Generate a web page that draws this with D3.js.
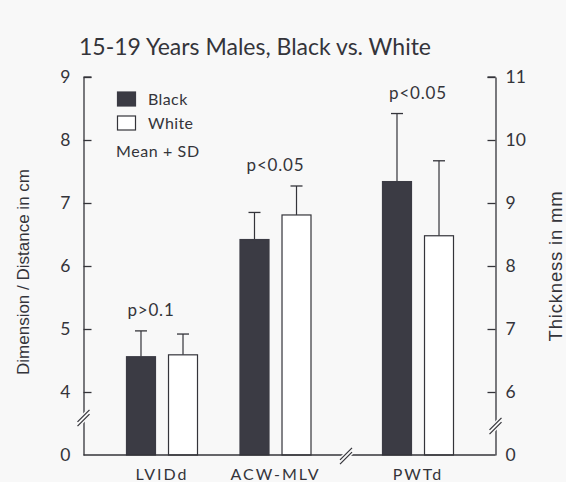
<!DOCTYPE html>
<html>
<head>
<meta charset="utf-8">
<script src="https://cdn.jsdelivr.net/npm/d3@7"></script>
<style>
  html, body { margin: 0; padding: 0; background: #f8f8f8; }
  svg { display: block; }
</style>
</head>
<body>
<svg id="chart" width="566" height="482"></svg>
<script>
// Group labels along the bottom
const categories = ["LVIDd", "ACW-MLV", "PWTd"];
// Which axis each group is read against (cm on the left, mm on the right)
const axisOf = ["left", "left", "right"];
// Means and standard deviations
const blackMean = [4.56, 6.42, 9.34];
const blackSD   = [0.41, 0.43, 1.08];
const whiteMean = [4.59, 6.81, 8.48];
const whiteSD   = [0.33, 0.46, 1.19];
// Significance labels above each group
const pLabels = ["p>0.1", "p<0.05", "p<0.05"];
// Axis ticks
const leftTicks  = [4, 5, 6, 7, 8, 9];
const rightTicks = [6, 7, 8, 9, 10, 11];
const zeroLabel = "0";

const ink = "#34343a";
const barDark = "#3b3b44";
const paper = "#f8f8f8";
const roundFont = "Lato, 'DejaVu Sans', sans-serif";
const plainFont = "'Liberation Sans', Arial, sans-serif";

const svg = d3.select("#chart");

const xLeft = 83.5, xRight = 495.5;
const yTop = 77, yBase = 455;

// Both value axes share one pixel-per-unit spacing; the bottom is broken to zero
const yL = d3.scaleLinear().domain([3, 9]).range([yBase, yTop]);
const yR = d3.scaleLinear().domain([5, 11]).range([yBase, yTop]);

// Group centres: a band scale, with an extra shift for groups past the axis break
const breakShift = 29;
const bandW = 113.5;
const xBand = d3.scaleBand().domain(categories)
  .range([162 - bandW / 2, 162 - bandW / 2 + bandW * 3]).padding(0);
const groupX = (c, i) => xBand(c) + xBand.bandwidth() / 2 + (i >= 2 ? breakShift : 0);
const xSeries = d3.scaleBand().domain(["Black", "White"]).range([-35.5, 35.5]).paddingInner(0.31).paddingOuter(0);

const rows = categories.map((c, i) => ({
  cat: c, i,
  y: axisOf[i] === "left" ? yL : yR,
  series: [
    { key: "Black", mean: blackMean[i], sd: blackSD[i] },
    { key: "White", mean: whiteMean[i], sd: whiteSD[i] }
  ]
}));

// Title
svg.append("text")
  .attr("x", 255).attr("y", 55)
  .attr("text-anchor", "middle")
  .attr("font-family", roundFont)
  .attr("font-size", 23)
  .attr("fill", ink)
  .text("15-19 Years Males, Black vs. White");

// Bars
const groups = svg.append("g").selectAll("g.group").data(rows).join("g")
  .attr("class", "group")
  .attr("transform", d => `translate(${groupX(d.cat, d.i)},0)`);

groups.each(function (d) {
  const g = d3.select(this);
  d.series.forEach(s => {
    const x0 = xSeries(s.key);
    const w = xSeries.bandwidth();
    const cx = x0 + w / 2;
    // error whisker
    g.append("line")
      .attr("x1", cx).attr("x2", cx)
      .attr("y1", d.y(s.mean)).attr("y2", d.y(s.mean + s.sd))
      .attr("stroke", ink).attr("stroke-width", 1.2);
    g.append("line")
      .attr("x1", cx - 6).attr("x2", cx + 6)
      .attr("y1", d.y(s.mean + s.sd)).attr("y2", d.y(s.mean + s.sd))
      .attr("stroke", ink).attr("stroke-width", 1.3);
    g.append("rect")
      .attr("x", x0).attr("width", w)
      .attr("y", d.y(s.mean)).attr("height", yBase - d.y(s.mean))
      .attr("fill", s.key === "Black" ? barDark : "#ffffff")
      .attr("stroke", s.key === "Black" ? barDark : ink)
      .attr("stroke-width", 1.2);
  });
  // label sits just above the taller whisker
  const top = d3.min(d.series, s => d.y(s.mean + s.sd));
  g.append("text")
    .attr("x", d.i === 0 ? -11 : 0).attr("y", top - 15)
    .attr("text-anchor", "middle")
    .attr("font-family", roundFont)
    .attr("font-size", 17)
    .attr("letter-spacing", 0.8)
    .attr("fill", ink)
    .text(pLabels[d.i]);
});

// Left axis (ticks pointing inward)
const fmt = d3.format("d");
const axL = svg.append("g").attr("transform", `translate(${xLeft},0)`)
  .call(d3.axisLeft(yL).tickValues(leftTicks).tickFormat(fmt)
    .tickSizeInner(-8).tickSizeOuter(0).tickPadding(13));
// Right axis
const axR = svg.append("g").attr("transform", `translate(${xRight},0)`)
  .call(d3.axisRight(yR).tickValues(rightTicks).tickFormat(fmt)
    .tickSizeInner(-8).tickSizeOuter(0).tickPadding(10));

[axL, axR].forEach(ax => {
  ax.select(".domain").attr("stroke", ink).attr("stroke-width", 1.3);
  ax.selectAll(".tick line").attr("stroke", ink).attr("stroke-width", 1.3);
  ax.selectAll(".tick text")
    .attr("font-family", roundFont).attr("font-size", 17.5).attr("fill", ink);
});
// top caps of the axes
svg.append("line").attr("x1", xLeft).attr("x2", xLeft + 8).attr("y1", yTop).attr("y2", yTop)
  .attr("stroke", ink).attr("stroke-width", 1.3);
svg.append("line").attr("x1", xRight - 8).attr("x2", xRight).attr("y1", yTop).attr("y2", yTop)
  .attr("stroke", ink).attr("stroke-width", 1.3);

// Baseline
svg.append("line")
  .attr("x1", xLeft).attr("x2", xRight).attr("y1", yBase).attr("y2", yBase)
  .attr("stroke", ink).attr("stroke-width", 1.3);

// Zero labels at the broken bottom
svg.append("text").attr("x", xLeft - 13).attr("y", yBase).attr("dy", "0.32em")
  .attr("text-anchor", "end").attr("font-family", roundFont).attr("font-size", 17.5)
  .attr("fill", ink).text(zeroLabel);
svg.append("text").attr("x", xRight + 10).attr("y", yBase).attr("dy", "0.32em")
  .attr("text-anchor", "start").attr("font-family", roundFont).attr("font-size", 17.5)
  .attr("fill", ink).text(zeroLabel);

// Break marks: two short parallel slashes with a paper-coloured gap
function breakMark(cx, cy) {
  const g = svg.append("g").attr("transform", `translate(${cx},${cy})`);
  g.append("polygon")
    .attr("points", "-7,2 5,-10 7,-2 -5,10")
    .attr("fill", paper);
  [-2.2, 2.2].forEach(o => {
    g.append("line")
      .attr("x1", -6).attr("y1", 6 + o)
      .attr("x2", 6).attr("y2", -6 + o)
      .attr("stroke", ink).attr("stroke-width", 1.2);
  });
}
breakMark(xLeft, 418);
breakMark(xRight, 426);
breakMark(346, yBase + 1);

// Category labels
svg.append("g").selectAll("text").data(rows).join("text")
  .attr("x", d => groupX(d.cat, d.i))
  .attr("y", 480)
  .attr("text-anchor", "middle")
  .attr("font-family", roundFont)
  .attr("font-size", 16)
  .attr("letter-spacing", 2)
  .attr("fill", ink)
  .text(d => d.cat);

// Axis titles
svg.append("text")
  .attr("transform", "translate(29,272) rotate(-90)")
  .attr("text-anchor", "middle")
  .attr("font-family", plainFont)
  .attr("font-size", 17)
  .attr("fill", ink)
  .text("Dimension / Distance in cm");
svg.append("text")
  .attr("transform", "translate(562,266) rotate(-90)")
  .attr("text-anchor", "middle")
  .attr("font-family", plainFont)
  .attr("font-size", 18.5)
  .attr("letter-spacing", 0.8)
  .attr("fill", ink)
  .text("Thickness in mm");

// Legend
const legend = svg.append("g");
const legendItems = [
  { key: "Black", fill: barDark, stroke: barDark, y: 92 },
  { key: "White", fill: "#ffffff", stroke: ink, y: 116 }
];
legendItems.forEach(it => {
  legend.append("rect").attr("x", 117.5).attr("y", it.y).attr("width", 18).attr("height", 14)
    .attr("fill", it.fill).attr("stroke", it.stroke).attr("stroke-width", 1.2);
  legend.append("text").attr("x", 148).attr("y", it.y + 7).attr("dy", "0.35em")
    .attr("font-family", roundFont).attr("font-size", 16).attr("letter-spacing", 0.4)
    .attr("fill", ink).text(it.key);
});
legend.append("text").attr("x", 116).attr("y", 151).attr("dy", "0.35em")
  .attr("font-family", roundFont).attr("font-size", 16).attr("letter-spacing", 0.6)
  .attr("fill", ink).text("Mean + SD");
</script>
</body>
</html>
